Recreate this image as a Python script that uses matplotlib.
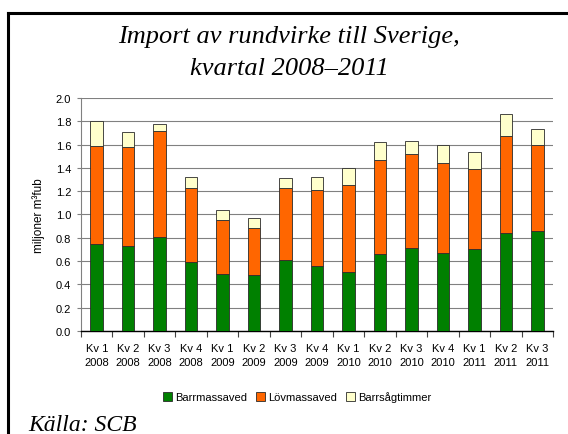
import numpy as np
import matplotlib
matplotlib.use("Agg")
import matplotlib.pyplot as plt
from matplotlib.lines import Line2D

kvartal = ["Kv 1\n2008", "Kv 2\n2008", "Kv 3\n2008", "Kv 4\n2008",
           "Kv 1\n2009", "Kv 2\n2009", "Kv 3\n2009", "Kv 4\n2009",
           "Kv 1\n2010", "Kv 2\n2010", "Kv 3\n2010", "Kv 4\n2010",
           "Kv 1\n2011", "Kv 2\n2011", "Kv 3\n2011"]
barrmassaved = [0.75, 0.73, 0.81, 0.59, 0.49, 0.48, 0.61, 0.56,
                0.51, 0.66, 0.71, 0.67, 0.70, 0.84, 0.86]
lovmassaved = [0.84, 0.85, 0.91, 0.64, 0.46, 0.40, 0.62, 0.65,
               0.74, 0.81, 0.81, 0.77, 0.69, 0.83, 0.74]
barrsagtimmer = [0.21, 0.13, 0.06, 0.09, 0.09, 0.09, 0.08, 0.11,
                 0.15, 0.15, 0.11, 0.16, 0.15, 0.19, 0.13]

plt.rcParams["font.family"] = ["Liberation Sans", "DejaVu Sans"]

fig = plt.figure(figsize=(5.68, 4.35), dpi=100)
ax = fig.add_axes([0.1426, 0.2368, 0.831, 0.5356])

x = np.arange(len(kvartal))
b1 = np.array(barrmassaved)
b2 = np.array(lovmassaved)
b3 = np.array(barrsagtimmer)
kw = dict(width=0.4, edgecolor="#2a2a2a", linewidth=0.6, zorder=3)
ax.bar(x, b1, color="#008000", label="Barrmassaved", **kw)
ax.bar(x, b2, bottom=b1, color="#ff6600", label="Lövmassaved", **kw)
ax.bar(x, b3, bottom=b1 + b2, color="#ffffcc", label="Barrsågtimmer", **kw)

ax.set_xlim(-0.5, len(kvartal) - 0.5)
ax.set_ylim(0, 2.0)
yt = np.arange(0, 2.01, 0.2)
ax.set_yticks(yt)
ax.set_yticklabels([f"{v:.1f}" for v in yt], fontsize=8)
ax.set_xticks(x)
ax.set_xticklabels(kvartal, fontsize=8, linespacing=1.4)
ax.set_xticks(np.arange(-0.5, len(kvartal), 1), minor=True)
ax.tick_params(axis="x", which="major", length=0, pad=9)
ax.tick_params(axis="x", which="minor", length=4, color="#444444", width=0.8)
ax.tick_params(axis="y", length=3, color="#808080", width=0.8, pad=4)
ax.grid(axis="y", color="#808080", linewidth=0.8, zorder=0)
ax.set_axisbelow(True)
for s in ["top", "right"]:
    ax.spines[s].set_visible(False)
ax.spines["left"].set_color("#808080")
ax.spines["bottom"].set_color("#000000")
ax.spines["bottom"].set_linewidth(1.0)

ax.set_ylabel("miljoner m³fub", fontsize=8.5, labelpad=8)

fig.text(0.509, 0.9011, "Import av rundvirke till Sverige,", ha="center",
         va="baseline", fontsize=19, style="italic", family="Liberation Serif")
fig.text(0.509, 0.8276, "kvartal 2008–2011", ha="center",
         va="baseline", fontsize=19, style="italic", family="Liberation Serif")
fig.text(0.05, 0.01, "Källa: SCB", ha="left", va="baseline", fontsize=17,
         style="italic", family="Liberation Serif")

fig.legend(loc="center", bbox_to_anchor=(0.523, 0.085), ncol=3, fontsize=8,
           frameon=False, handlelength=0.8, handleheight=0.8,
           handletextpad=0.3, columnspacing=0.8)

# ram runt diagrammet
fig.add_artist(Line2D([0.014, 0.014], [-0.1, 0.968], color="black", lw=2.2,
                      transform=fig.transFigure))
fig.add_artist(Line2D([0.014, 1.1], [0.968, 0.968], color="black", lw=2.2,
                      transform=fig.transFigure))

fig.savefig("out.png", dpi=100)
